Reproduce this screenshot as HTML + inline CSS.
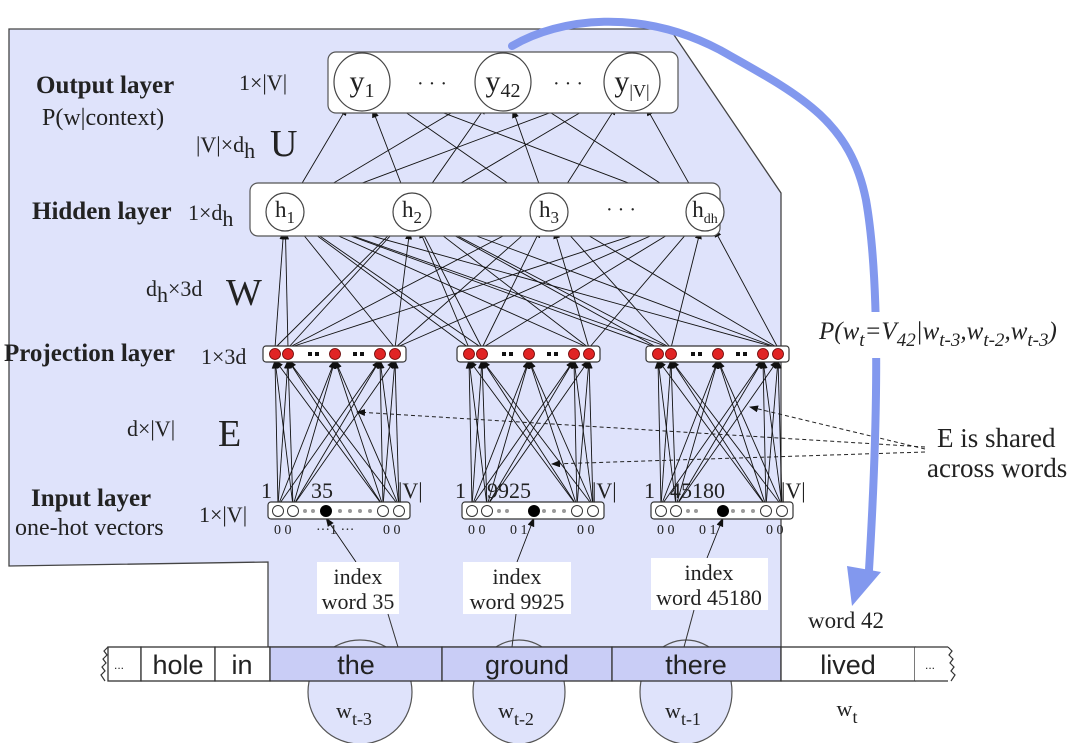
<!DOCTYPE html>
<html><head><meta charset="utf-8"><style>
html,body{margin:0;padding:0;background:#fff;}
svg{display:block;}
text{font-family:"Liberation Serif",serif;fill:#222;}
.sans{font-family:"Liberation Sans",sans-serif;}
</style></head><body>
<svg id="s" width="1080" height="743" viewBox="0 0 1080 743" xmlns="http://www.w3.org/2000/svg">
<defs>
<marker id="ah" markerWidth="9" markerHeight="7" refX="8.5" refY="3.5" orient="auto" markerUnits="userSpaceOnUse"><path d="M0,0 L9,3.5 L0,7 z" fill="#111"/></marker>
<marker id="ahd" markerWidth="9" markerHeight="7" refX="8" refY="3.5" orient="auto" markerUnits="userSpaceOnUse"><path d="M0,0 L9,3.5 L0,7 z" fill="#111"/></marker>
</defs>
<polygon points="9,29 670,29 781,193 781,647 268,647 268,562 9,566" fill="#dfe3fb" stroke="#444" stroke-width="1.3"/>
<g fill="#dfe3fb" stroke="#555" stroke-width="1.2">
<ellipse cx="360" cy="692" rx="52" ry="52"/>
<ellipse cx="519" cy="692" rx="46" ry="52"/>
<ellipse cx="686" cy="692" rx="46" ry="52"/>
</g>
<g stroke="#333" stroke-width="1.3">
<rect x="108" y="647" width="33" height="34" fill="#fff"/>
<rect x="141" y="647" width="74" height="34" fill="#fff"/>
<rect x="215" y="647" width="55" height="34" fill="#fff"/>
<rect x="270" y="647" width="172" height="34" fill="#c9cdf6"/>
<rect x="442" y="647" width="170" height="34" fill="#c9cdf6"/>
<rect x="612" y="647" width="169" height="34" fill="#c9cdf6"/>
<rect x="781" y="647" width="134" height="34" fill="#fff"/>
<rect x="915" y="647" width="33" height="34" fill="#fff" stroke="none"/>
<line x1="915" y1="647" x2="948" y2="647"/><line x1="915" y1="681" x2="948" y2="681"/>
</g>
<path d="M108,647 l-4,4 l3,4 l-4,4 l3,4 l-4,4 l3,4 l-4,4 l4,6" fill="none" stroke="#333" stroke-width="1.2"/>
<path d="M948,647 l4,4 l-3,4 l4,4 l-3,4 l4,4 l-3,4 l4,4 l-4,6" fill="none" stroke="#333" stroke-width="1.2"/>
<text class="sans" x="114" y="669" font-size="12">...</text>
<text class="sans" x="925" y="669" font-size="12">...</text>
<g text-anchor="middle">
<text class="sans" font-size="27" x="178" y="674">hole</text>
<text class="sans" font-size="27" x="242" y="674">in</text>
<text class="sans" font-size="27" x="356" y="674">the</text>
<text class="sans" font-size="27" x="527" y="674">ground</text>
<text class="sans" font-size="27" x="696" y="674">there</text>
<text class="sans" font-size="27" x="848" y="674">lived</text>
</g>
<g font-size="22" text-anchor="middle">
<text x="354" y="718">w<tspan font-size="18" dy="7">t-3</tspan></text>
<text x="516" y="718">w<tspan font-size="18" dy="7">t-2</tspan></text>
<text x="683" y="718">w<tspan font-size="18" dy="7">t-1</tspan></text>
<text x="847" y="716">w<tspan font-size="18" dy="7">t</tspan></text>
</g>
<g id="lines" stroke="#111" stroke-width="0.9" fill="none"></g>
<rect x="328" y="52" width="350" height="61" rx="8" fill="#fff" stroke="#555" stroke-width="1.2"/>
<rect x="250" y="183" width="470" height="53" rx="8" fill="#fff" stroke="#555" stroke-width="1.2"/>
<g id="nodes"></g>
<g font-size="30" text-anchor="middle">
<text x="362" y="91">y<tspan font-size="20" dy="6">1</tspan></text>
<text x="503" y="91">y<tspan font-size="20" dy="6">42</tspan></text>
<text x="632" y="91">y<tspan font-size="18" dy="6">|V|</tspan></text>
<text x="432" y="90" font-size="20">· · ·</text>
<text x="568" y="90" font-size="20">· · ·</text>
</g>
<g font-size="23" text-anchor="middle">
<text x="285" y="217">h<tspan font-size="17" dy="6">1</tspan></text>
<text x="412" y="217">h<tspan font-size="17" dy="6">2</tspan></text>
<text x="549" y="217">h<tspan font-size="17" dy="6">3</tspan></text>
<text x="705" y="217">h<tspan font-size="14" dy="6">dh</tspan></text>
<text x="621" y="216" font-size="20">· · ·</text>
</g>
<g id="bars"></g>
<rect x="317" y="562" width="82" height="52" fill="#fff"/>
<rect x="463" y="562" width="108" height="52" fill="#fff"/>
<rect x="651" y="558" width="117" height="52" fill="#fff"/>
<g font-size="22" text-anchor="middle">
<text x="358" y="584">index</text><text x="358" y="609">word 35</text>
<text x="517" y="584">index</text><text x="517" y="609">word 9925</text>
<text x="709" y="580">index</text><text x="709" y="605">word 45180</text>
</g>
<g font-size="24">
<text x="36" y="93" font-size="25" font-weight="bold">Output layer</text>
<text x="42" y="125">P(w|context)</text>
<text x="239" y="90" font-size="22">1×|V|</text>
<text x="196" y="152" font-size="22">|V|×d<tspan dy="6">h</tspan></text>
<text x="270" y="156" font-size="38">U</text>
<text x="32" y="219" font-size="25" font-weight="bold">Hidden layer</text>
<text x="188" y="220" font-size="22">1×d<tspan dy="6">h</tspan></text>
<text x="146" y="296" font-size="22">d<tspan dy="6">h</tspan><tspan dy="-6">×3d</tspan></text>
<text x="226" y="305" font-size="38">W</text>
<text x="4" y="361" font-size="25" font-weight="bold">Projection layer</text>
<text x="201" y="364" font-size="22">1×3d</text>
<text x="127" y="436" font-size="22">d×|V|</text>
<text x="218" y="446" font-size="38">E</text>
<text x="31" y="506" font-size="25" font-weight="bold">Input layer</text>
<text x="15" y="535">one-hot vectors</text>
<text x="199" y="522" font-size="22">1×|V|</text>
</g>
<text x="937" y="447" font-size="27">E is shared</text>
<text x="927" y="477" font-size="27">across words</text>
<g stroke="#222" stroke-width="1" stroke-dasharray="4,3" fill="none">
<line x1="925" y1="447" x2="357" y2="412" marker-end="url(#ahd)"/>
<line x1="925" y1="449" x2="750" y2="407" marker-end="url(#ahd)"/>
<line x1="925" y1="452" x2="552" y2="464" marker-end="url(#ahd)"/>
</g>
<path d="M512,46 C560,18 640,8 720,50 C800,95 850,120 866,200 C880,280 878,420 869,570" fill="none" stroke="#8298ee" stroke-width="8" stroke-linecap="round"/>
<polygon points="847,566 881,572 852,606" fill="#8298ee"/>
<rect x="816" y="312" width="262" height="46" fill="#fff"/>
<text x="819" y="339" font-size="25" font-style="italic">P(w<tspan font-size="19" dy="7">t</tspan><tspan dy="-7">=V</tspan><tspan font-size="19" dy="7">42</tspan><tspan dy="-7">|w</tspan><tspan font-size="19" dy="7">t-3</tspan><tspan dy="-7">,w</tspan><tspan font-size="19" dy="7">t-2</tspan><tspan dy="-7">,w</tspan><tspan font-size="19" dy="7">t-3</tspan><tspan dy="-7">)</tspan></text>
<text x="808" y="628" font-size="23">word 42</text>
</svg>
<script>
var NS="http://www.w3.org/2000/svg";
var L=document.getElementById("lines"),N=document.getElementById("nodes"),B=document.getElementById("bars"),S=document.getElementById("s");
function el(t,a,p){var e=document.createElementNS(NS,t);for(var k in a)e.setAttribute(k,a[k]);(p||S).appendChild(e);return e;}
function line(x1,y1,x2,y2,r1,r2,arrow){var dx=x2-x1,dy=y2-y1,d=Math.hypot(dx,dy);x1+=dx/d*r1;y1+=dy/d*r1;x2-=dx/d*r2;y2-=dy/d*r2;var a={x1:x1,y1:y1,x2:x2,y2:y2};if(arrow!==false)a["marker-end"]="url(#ah)";el("line",a,L);}
var Y=[[362,82],[503,82],[632,82]],H=[[285,212],[412,212],[549,212],[705,212]];
H.forEach(function(h){Y.forEach(function(y){line(h[0],h[1],y[0],y[1],19,29);});});
Y.forEach(function(y){el("ellipse",{cx:y[0],cy:y[1],rx:28,ry:29,fill:"#fff",stroke:"#444","stroke-width":1.2},N);});
H.forEach(function(h){el("circle",{cx:h[0],cy:h[1],r:19,fill:"#fff",stroke:"#444","stroke-width":1.2},N);});
var offs=[0,194,383];
var pd=[275,288,335,380,395],id=[278,293,326,383,399];
offs.forEach(function(o,bi){
  [pd[0],pd[1],pd[4]].forEach(function(px,k){H.forEach(function(h,hi){if(k==0&&hi>1)return;line(px+o,348,h[0],h[1],0,19);});});
  [0,1,3,4].forEach(function(i){pd.forEach(function(p,j){if((i==0&&j==4)||(i==4&&j==0))return;line(id[i]+o,506,p+o,360,0,0);});});
  el("rect",{x:263+o,y:346,width:143,height:16,rx:3,fill:"#fff",stroke:"#333","stroke-width":1.2},B);
  pd.forEach(function(p){el("circle",{cx:p+o,cy:354,r:5.5,fill:"#e02424",stroke:"#600","stroke-width":0.8},B);});
  [310,317,355,362].forEach(function(x){el("rect",{x:x+o-2,y:352,width:4,height:4,fill:"#111"},B);});
  el("rect",{x:268+o,y:502,width:142,height:17,rx:3,fill:"#fff",stroke:"#333","stroke-width":1.2},B);
  var blk=[326,340,340][bi];
  [278,293,383,399].forEach(function(x){el("circle",{cx:x+o,cy:511,r:5.5,fill:"#fff",stroke:"#333","stroke-width":1},B);});
  el("circle",{cx:blk+o,cy:511,r:6,fill:"#000"},B);
  [305,313,340,350,360,370].forEach(function(x){if(Math.abs(x-blk)>8)el("circle",{cx:x+o,cy:511,r:2,fill:"#999"},B);});
  function t(x,y,s,fs){var e=el("text",{x:x,y:y,"font-size":fs},B);e.textContent=s;}
  t(261+o,498,"1",22);t(398+o,498,"|V|",22);
  t(274+o,534,"0 0",14);t(383+o,534,"0 0",14);
  line([356,517,707][bi],[562,562,558][bi],blk+o,518,0,0);
});
</script>
<svg style="position:absolute;left:0;top:0" width="1080" height="743" xmlns="http://www.w3.org/2000/svg">
<text x="311" y="498" font-size="22" font-family="Liberation Serif">35</text>
<text x="487" y="498" font-size="22" font-family="Liberation Serif">9925</text>
<text x="670" y="498" font-size="22" font-family="Liberation Serif">45180</text>
<text x="316" y="534" font-size="14" font-family="Liberation Serif">···1  ···</text>
<text x="510" y="534" font-size="14" font-family="Liberation Serif">0 1</text>
<text x="699" y="534" font-size="14" font-family="Liberation Serif">0   1</text>
<g stroke="#333" stroke-width="1">
<line x1="388" y1="614" x2="398" y2="647"/>
<line x1="516" y1="614" x2="512" y2="647"/>
<line x1="694" y1="610" x2="684" y2="647"/>
</g>
</svg>
</body></html>
